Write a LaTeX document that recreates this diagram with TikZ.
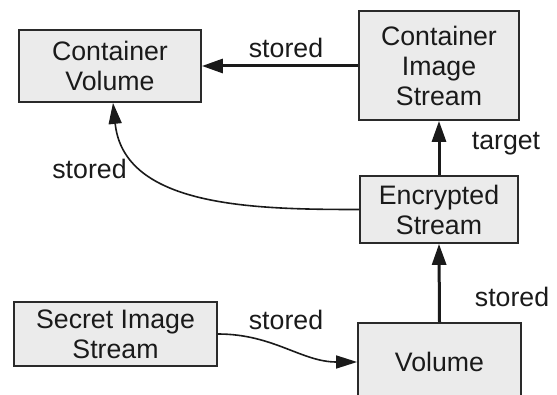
\documentclass[tikz,border=0pt]{standalone}
\usepackage{fontspec}
\setmainfont{Liberation Sans}
\usetikzlibrary{arrows.meta}
\definecolor{boxfill}{HTML}{EBEBEB}
\definecolor{boxline}{HTML}{2A2A2A}
\definecolor{ink}{HTML}{1A1A1A}
\tikzset{
  box/.style={draw=boxline, line width=1.8pt, fill=boxfill, inner sep=0pt, align=center,
    text=ink, font=\fontsize{26.7}{30}\selectfont},
  lbl/.style={text=ink, font=\fontsize{26.7}{30}\selectfont, inner sep=0pt},
  thickarrow/.style={draw=ink, line width=3pt, -{Triangle[length=21pt,width=14pt]}},
  thinarrow/.style={draw=ink, line width=1.6pt, -{Triangle[length=21pt,width=13pt]}},
}
\begin{document}
\begin{tikzpicture}[x=1pt,y=1pt]
\useasboundingbox (0,0) rectangle (557,-395);
\clip (0,0) rectangle (557,-395);
\node[box, minimum width=182pt, minimum height=72pt] (cv) at (110,-66) {Container\\Volume};
\node[box, minimum width=160pt, minimum height=109pt] (cis) at (439,-65.5) {Container\\Image\\Stream};
\node[box, minimum width=158pt, minimum height=67pt] (es) at (439,-209.5) {Encrypted\\Stream};
\node[box, minimum width=203pt, minimum height=64pt] (sis) at (115.5,-334) {Secret Image\\Stream};
\node[box, minimum width=163pt, minimum height=78pt] (vol) at (439.5,-362) {Volume};

\draw[thickarrow] (cis.west |- 0,-66) -- (cv.east |- 0,-66);
\draw[thickarrow] (es.north) -- (cis.south);
\draw[thickarrow] (vol.north) -- (es.south);
\draw[thinarrow] (es.west) to[out=180, in=-84] ([xshift=3pt]cv.south);
\draw[thinarrow] (sis.east) to[out=0, in=180] (vol.west);

\node[lbl] (l1) at (286,-48) {stored};
\node[lbl] (l2) at (506,-144) {target};
\node[lbl] (l3) at (512,-297) {stored};
\node[lbl] (l4) at (89.5,-169) {stored};
\node[lbl] (l5) at (286,-320) {stored};
\end{tikzpicture}
\end{document}
